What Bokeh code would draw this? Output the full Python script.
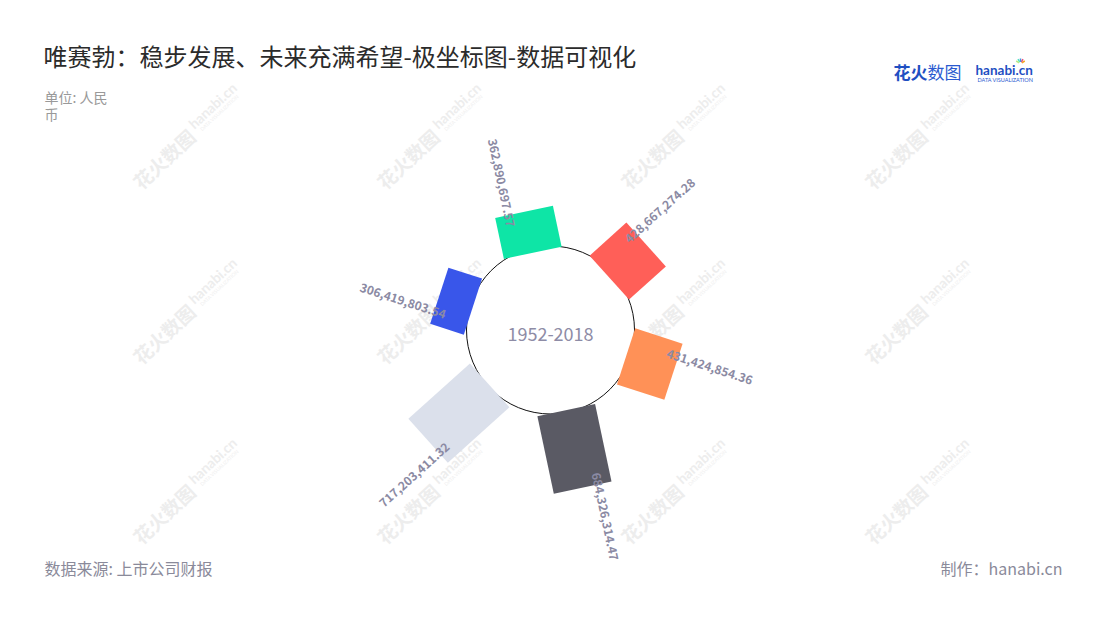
import math
import numpy as np
from bokeh.plotting import figure
from bokeh.models import Range1d, ColumnDataSource
from bokeh.embed import file_html
from bokeh.resources import INLINE
from bokeh.core.properties import value

# ---------------- data ----------------
values = [362890697.57, 428667274.28, 431424854.36, 684326314.47, 717203411.32, 306419803.54]
bar_colors = ["#0ee5a6", "#ff5f58", "#ff9157", "#5a5a64", "#dbe0eb", "#3956ea"]
title_text = "唯赛勃：稳步发展、未来充满希望-极坐标图-数据可视化"
unit_lines = ["单位: 人民", "币"]
center_text = "1952-2018"
source_text = "数据来源: 上市公司财报"
credit_text = "制作：hanabi.cn"

FONT = value("Noto Sans CJK SC")

# ---------------- polar geometry (page px) ----------------
CX, CY = 549.0, 331.0       # polar centre
R_HOLE = 84.0               # white centre disc
R0 = 80.5                   # radius where value 0 sits
R_MAX_VAL = 800e6
R_MAX = 80.5 + 92.4         # radius for R_MAX_VAL
BAR_W = 59.0
START_DEG = -12.0
STEP_DEG = 360.0 / len(values)


def rscale(v):
    return R0 + (R_MAX - R0) * (np.asarray(v) / R_MAX_VAL)


W, H = 1084, 604

p = figure(width=W, height=H, x_range=Range1d(0, W), y_range=Range1d(-H, 0),
           x_axis_type=None, y_axis_type=None, toolbar_location=None,
           output_backend="svg", min_border=0, outline_line_color=None,
           background_fill_color="white", border_fill_color="white")
p.grid.visible = False

# watermarks (faint)
wm_cols = [163, 407, 651, 895]
wm_rows = [158, 333, 513]
ang_wm = math.radians(43)
wx, wy, hx, hy, dx, dy = [], [], [], [], [], []
for r in wm_rows:
    for c in wm_cols:
        wx.append(c)
        wy.append(-r)
        hx.append(c + 49)
        hy.append(-r + 53)
        dx.append(c + 56)
        dy.append(-r + 46)
p.text(x=wx, y=wy, text=["花火数图"] * len(wx), angle=ang_wm, text_font=FONT,
       text_font_size="19px", text_font_style="bold", text_color="#ededed",
       text_align="center", text_baseline="middle")
p.text(x=hx, y=hy, text=["hanabi.cn"] * len(hx), angle=ang_wm, text_font=value("Lato"),
       text_font_size="14px", text_font_style="bold", text_color="#ededed",
       text_align="center", text_baseline="middle")
p.text(x=dx, y=dy, text=["DATA VISUALIZATION"] * len(dx), angle=ang_wm, text_font=value("Lato"),
       text_font_size="5px", text_color="#efefef",
       text_align="center", text_baseline="middle")

# centre disc
p.circle(x=[550], y=[-329.5], radius=R_HOLE, fill_color="white", line_color="#111111",
         line_width=1)

# bars as rotated rectangles
theta = np.radians(START_DEG + STEP_DEG * np.arange(len(values)))
r_out = rscale(values)
r_mid = (R0 + r_out) / 2.0
bx = CX + r_mid * np.sin(theta)
by = -CY + r_mid * np.cos(theta)
src = ColumnDataSource(dict(x=bx, y=by, h=r_out - R0, ang=-theta, color=bar_colors))
p.rect(x="x", y="y", width=BAR_W, height="h", angle="ang", fill_color="color",
       line_color=None, source=src)

# value labels
labels = [f"{v:,.2f}" for v in values]
along = r_out + 33.0
perp = -16.0
lx = CX + along * np.sin(theta) + perp * np.cos(theta)
ly = -CY + along * np.cos(theta) - perp * np.sin(theta)
deg = (START_DEG + STEP_DEG * np.arange(len(values))) % 360
tang = np.where(deg < 180, 90 - deg, 270 - deg)
p.text(x=lx, y=ly, text=labels, angle=np.radians(tang), text_font=FONT,
       text_font_size="12px", text_font_style="bold", text_color="#8b8aa3",
       text_align="center", text_baseline="middle")

# centre text
p.text(x=[550], y=[-333], text=[center_text], text_font=FONT, text_font_size="18px",
       text_color="#8e8ca6", text_align="center", text_baseline="middle")

# title & unit
p.text(x=[43], y=[-55], text=[title_text], text_font=FONT, text_font_size="24px",
       text_color="#2b2b2b", text_align="left", text_baseline="middle")
p.text(x=[44, 44], y=[-96, -113], text=unit_lines, text_font=FONT, text_font_size="14px",
       text_color="#999999", text_align="left", text_baseline="middle")

# logo
p.text(x=[893], y=[-71], text=["花火"], text_font=FONT, text_font_size="17px",
       text_font_style="bold", text_color="#1f4fc2", text_align="left", text_baseline="middle")
p.text(x=[927], y=[-71], text=["数图"], text_font=FONT, text_font_size="17px",
       text_color="#2a5ad0", text_align="left", text_baseline="middle")
p.text(x=[975], y=[-69.5], text=["hanabi.cn"], text_font=value("Lato"), text_font_size="13.5px",
       text_font_style="bold", text_color="#1f4fc2", text_align="left", text_baseline="middle")
p.text(x=[977], y=[-79], text=["DATA VISUALIZATION"], text_font=value("Lato"),
       text_font_size="5.5px", text_color="#2a5ad0", text_align="left", text_baseline="middle")
ray_cols = ["#f5a623", "#e94e77", "#4a90e2", "#50e3c2", "#b8e986"]
ray_ang = np.radians([30, 60, 90, 120, 150])
p.segment(x0=1020 + 1.5 * np.cos(ray_ang), y0=-63 + 1.5 * np.sin(ray_ang),
          x1=1020 + 5 * np.cos(ray_ang), y1=-63 + 5 * np.sin(ray_ang),
          line_color=ray_cols, line_width=1.5)

# footer
p.text(x=[44], y=[-567], text=[source_text], text_font=FONT, text_font_size="16px",
       text_color="#8a8a9a", text_align="left", text_baseline="middle")
p.text(x=[1062], y=[-567], text=[credit_text], text_font=FONT, text_font_size="16px",
       text_color="#8a8a9a", text_align="right", text_baseline="middle")

open("out.html", "w").write(file_html(p, INLINE))
